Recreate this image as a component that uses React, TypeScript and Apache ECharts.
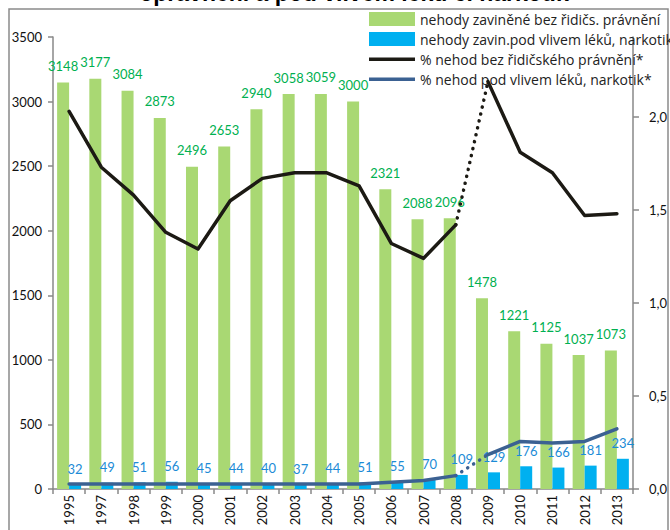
import React, { useEffect, useRef } from "react";
import * as echarts from "echarts";

const years = ["1995", "1997", "1998", "1999", "2000", "2001", "2002", "2003", "2004", "2005", "2006", "2007", "2008", "2009", "2010", "2011", "2012", "2013"];
const noLicense = [3148, 3177, 3084, 2873, 2496, 2653, 2940, 3058, 3059, 3000, 2321, 2088, 2096, 1478, 1221, 1125, 1037, 1073];
const drugs = [32, 49, 51, 56, 45, 44, 40, 37, 44, 51, 55, 70, 109, 129, 176, 166, 181, 234];
const pctNoLicense = [2.03, 1.73, 1.58, 1.38, 1.29, 1.55, 1.67, 1.7, 1.7, 1.63, 1.32, 1.24, 1.42, 2.19, 1.81, 1.7, 1.47, 1.48];
const pctDrugs = [0.027, 0.027, 0.027, 0.027, 0.027, 0.027, 0.027, 0.027, 0.027, 0.027, 0.036, 0.046, 0.072, 0.185, 0.256, 0.247, 0.256, 0.323];
const leftTicks = [0, 500, 1000, 1500, 2000, 2500, 3000, 3500];
const rightTicks = [0, 0.5, 1, 1.5, 2];

const names = [
  "nehody zaviněné bez řidičs. právnění",
  "nehody zavin.pod vlivem léků, narkotik",
  "% nehod bez řidičského právnění*",
  "% nehod pod vlivem léků, narkotik*",
];
const title = "oprávnění a pod vlivem léků či narkotik";

const GAP_FROM = 12;
const GAP_TO = 13;
const seg = (arr: number[], part: 0 | 1 | 2) =>
  arr.map((v, i) => {
    if (part === 0) return i <= GAP_FROM ? v : null;
    if (part === 1) return i >= GAP_TO ? v : null;
    return i === GAP_FROM || i === GAP_TO ? v : null;
  });

const FONT = "Lato, 'Noto Sans', sans-serif";
const LEGEND_FONT = "'Open Sans', Lato, sans-serif";
const LINE_ICON = "path://M0,0L0.01,0L0.01,0.01L0,0.01Z M0,5.5L46,5.5L46,9L0,9Z M45.99,14L46,14L46,13.99L45.99,13.99Z";

export default function App() {
  const ref = useRef<HTMLDivElement>(null);
  useEffect(() => {
    if (!ref.current) return;
    const chart = echarts.init(ref.current, undefined, { renderer: "svg" });
    const black = "#1c1a14";
    const navy = "#3b6192";
    const lineBase = (name: string, data: any[], color: string, dotted = false) => ({
      name,
      type: "line",
      yAxisIndex: 1,
      data,
      symbol: "none",
      showSymbol: false,
      connectNulls: false,
      z: 5,
      lineStyle: dotted
        ? { color, width: 3.5, type: [0.1, 7], cap: "round" }
        : { color, width: 3.5, cap: "round", join: "round" },
      itemStyle: { color },
    });
    chart.setOption({
      animation: false,
      backgroundColor: "#ffffff",
      textStyle: { fontFamily: FONT },
      grid: { left: 53, right: 37, top: 37, bottom: 41, containLabel: false },
      legend: {
        orient: "vertical",
        left: 369,
        top: 12,
        padding: 0,
        itemWidth: 46,
        itemHeight: 14,
        itemGap: 6,
        data: names.map((n, i) => ({
          name: n,
          icon: i < 2 ? "rect" : LINE_ICON,
        })),
        textStyle: { fontSize: 14, color: "#222", fontFamily: LEGEND_FONT, overflow: "none" },
        selectedMode: false,
      },
      xAxis: {
        type: "category",
        data: years,
        axisLine: { show: true, lineStyle: { color: "#888", width: 1.5 } },
        axisTick: { show: true, length: 5, alignWithLabel: false, interval: 0, lineStyle: { color: "#888", width: 1.5 } },
        axisLabel: { rotate: 90, interval: 0, margin: 6, fontSize: 13, color: "#111", fontFamily: FONT },
        splitLine: { show: false },
      },
      yAxis: [
        {
          type: "value",
          min: 0,
          max: 3500,
          interval: 500,
          axisLine: { show: true, lineStyle: { color: "#888", width: 1.5 } },
          axisTick: { show: true, length: 5, lineStyle: { color: "#888", width: 1.5 }, customValues: leftTicks },
          axisLabel: {
            margin: 11,
            fontSize: 13,
            color: "#111",
            fontFamily: FONT,
            customValues: leftTicks,
            formatter: (v: number) => String(Math.round(v)),
          },
          splitLine: { show: false },
        },
        {
          type: "value",
          min: 0,
          max: 2.43,
          interval: 0.5,
          position: "right",
          axisLine: { show: true, lineStyle: { color: "#888", width: 1.5 } },
          axisTick: { show: true, length: 6, lineStyle: { color: "#888", width: 1.5 }, customValues: rightTicks },
          axisLabel: {
            margin: 16,
            fontSize: 13,
            color: "#111",
            fontFamily: FONT,
            customValues: rightTicks,
            formatter: (v: number) =>
              Math.abs(v * 2 - Math.round(v * 2)) < 1e-6 ? v.toFixed(1).replace(".", ",") : "",
          },
          splitLine: { show: false },
        },
      ],
      series: [
        {
          name: names[0],
          type: "bar",
          data: noLicense,
          barWidth: 12,
          barGap: "0%",
          itemStyle: { color: "#a9d873" },
          label: { show: true, position: "top", distance: 10, fontSize: 13, color: "#00b050", fontFamily: FONT },
          z: 2,
        },
        {
          name: names[1],
          type: "bar",
          data: drugs,
          barWidth: 12,
          barGap: "0%",
          itemStyle: { color: "#00b0f0" },
          label: { show: true, position: "top", distance: 9, fontSize: 13, color: "#1c8bd6", fontFamily: FONT },
          z: 2,
        },
        lineBase(names[2], seg(pctNoLicense, 0), black),
        lineBase("_nl2", seg(pctNoLicense, 1), black),
        lineBase("_nl3", seg(pctNoLicense, 2), black, true),
        lineBase(names[3], seg(pctDrugs, 0), navy),
        lineBase("_dr2", seg(pctDrugs, 1), navy),
        lineBase("_dr3", seg(pctDrugs, 2), navy, true),
      ],
      graphic: [
        {
          type: "rect",
          z: -10,
          silent: true,
          shape: { x: 9, y: 9, width: 659, height: 540 },
          style: { fill: "none", stroke: "#8a8a8a", lineWidth: 1.5 },
        },
        {
          type: "text",
          z: 10,
          silent: true,
          x: 354,
          y: 4,
          style: {
            text: title,
            align: "center",
            verticalAlign: "bottom",
            fontSize: 23,
            fontWeight: "bold",
            fill: "#000",
            fontFamily: "'Liberation Sans', Arial, sans-serif",
          },
        },
      ],
    });
    return () => chart.dispose();
  }, []);
  return (
    <div
      ref={ref}
      style={{ position: "fixed", left: 0, top: 0, width: 670, height: 530 }}
    />
  );
}
